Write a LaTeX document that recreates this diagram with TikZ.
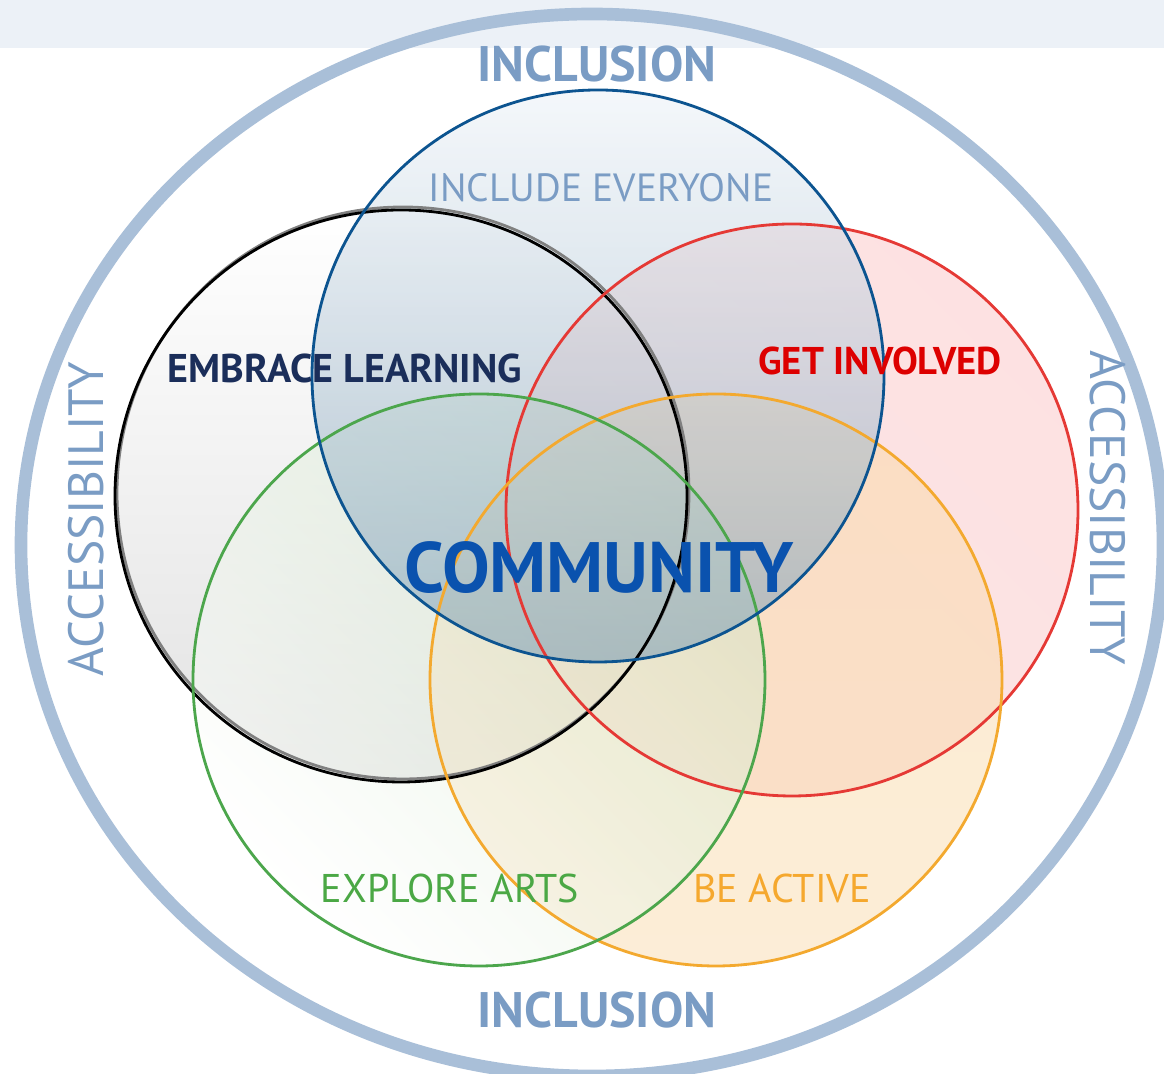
\documentclass[tikz,border=0pt]{standalone}
\usepackage{fontspec}
\setmainfont{PT Sans}
\usetikzlibrary{positioning}

\definecolor{ringblue}{HTML}{A9BFD8}
\definecolor{bandgray}{HTML}{ECF1F7}
\definecolor{steeltext}{HTML}{7A9CC4}
\definecolor{navytext}{HTML}{1B2E5A}
\definecolor{redtext}{HTML}{DD0000}
\definecolor{commblue}{HTML}{0A52AE}
\definecolor{greentext}{HTML}{4BA845}
\definecolor{orangetext}{HTML}{F5A82E}
\definecolor{bluecirc}{HTML}{0C5490}
\definecolor{redcirc}{HTML}{E53935}
\definecolor{greencirc}{HTML}{4CA64C}
\definecolor{orangecirc}{HTML}{F3A92F}

\begin{document}
\begin{tikzpicture}[x=0.1mm,y=-0.1mm,
	ring/.style={line width=3.6pt,color=ringblue},
	venn/.style={line width=0.8pt},
	shadefill/.style={fill opacity=0.5,shading angle=45},
	label/.style={inner sep=0pt,anchor=center}]
		\useasboundingbox (0,0) rectangle (1164,1074);
		\fill [bandgray] (0,0) rectangle (1164,48);
		\draw [ring] (592,545) ellipse [x radius=571,y radius=531];
		
		% fills of the five circles
		\shade [shadefill,top color=white,bottom color=gray!45] (401,496) circle [radius=286];
		\shade [shadefill,top color={rgb,255:red,252;green,196;blue,198},bottom color={rgb,255:red,246;green,204;blue,200},shading angle=-45] (792,510) circle [radius=286];
		\shade [shadefill,top color={rgb,255:red,250;green,216;blue,166},bottom color={rgb,255:red,250;green,220;blue,175}] (716,680) circle [radius=286];
		\shade [shadefill,top color={rgb,255:red,205;green,228;blue,196},bottom color=white,shading angle=-45] (479,680) circle [radius=286];
		\shade [shadefill,fill opacity=0.55,top color={rgb,255:red,235;green,241;blue,247},bottom color={rgb,255:red,120;green,155;blue,180}] (598,376) circle [radius=286];
		
		% outlines
		\draw [venn,color=gray] (403,493) circle [radius=286];
		\draw [venn,color=black] (401,496) circle [radius=286];
		\draw [venn,color=redcirc] (792,510) circle [radius=286];
		\draw [venn,color=orangecirc] (716,680) circle [radius=286];
		\draw [venn,color=greencirc] (479,680) circle [radius=286];
		\draw [venn,color=bluecirc] (598,376) circle [radius=286];
		
		% labels
		\node [label,color=steeltext,font=\bfseries\fontsize{14.2}{16}\selectfont] (inclTop) at (597,64) {INCLUSION};
		\node [label,color=steeltext,font=\bfseries\fontsize{14.2}{16}\selectfont] (inclBottom) at (597,1010) {INCLUSION};
		\node [label,color=steeltext,font=\fontsize{14.1}{16}\selectfont,rotate=90] (accLeft) at (86,519) {ACCESSIBILITY};
		\node [label,color=steeltext,font=\fontsize{14.1}{16}\selectfont,rotate=-90] (accRight) at (1108,508) {ACCESSIBILITY};
		
		\node [label,color=steeltext,font=\fontsize{11.2}{13}\selectfont] (include) at (601,188) {INCLUDE EVERYONE};
		\node [label,color=navytext,font=\bfseries\fontsize{11.4}{13}\selectfont] (embrace) at (345,368) {EMBRACE LEARNING};
		\node [label,color=redtext,font=\bfseries\fontsize{11}{13}\selectfont] (involved) at (880,361) {GET INVOLVED};
		\node [label,color=commblue,font=\bfseries\fontsize{20.3}{24}\selectfont] (community) at (599,568) {COMMUNITY};
		\node [label,color=greentext,font=\fontsize{11.4}{13}\selectfont] (arts) at (450,888) {EXPLORE ARTS};
		\node [label,color=orangetext,font=\fontsize{11.4}{13}\selectfont] (active) at (782,888) {BE ACTIVE};
\end{tikzpicture}
\end{document}
